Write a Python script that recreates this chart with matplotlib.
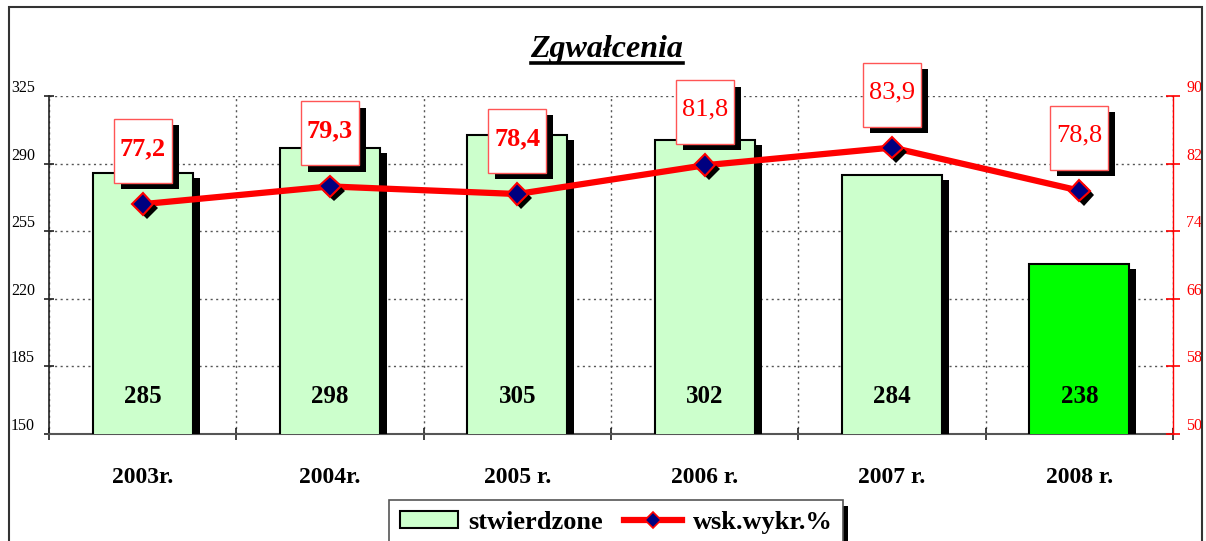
import matplotlib
matplotlib.use("Agg")
import matplotlib.pyplot as plt
import matplotlib.patheffects as pe
from matplotlib.patches import Rectangle, Patch
from matplotlib.lines import Line2D
import numpy as np

# ---- data ----
years = ["2003r.", "2004r.", "2005 r.", "2006 r.", "2007 r.", "2008 r."]
stwierdzone = [285, 298, 305, 302, 284, 238]
wsk_wykr = [77.2, 79.3, 78.4, 81.8, 83.9, 78.8]
wsk_labels = ["77,2", "79,3", "78,4", "81,8", "83,9", "78,8"]
left_ticks = [150, 185, 220, 255, 290, 325]
right_ticks = [50, 58, 66, 74, 82, 90]
title = "Zgwałcenia"
legend_labels = ["stwierdzone", "wsk.wykr.%"]

# ---- style ----
bar_colors = ["#CCFFCC"] * 5 + ["#00FF00"]
label_weights = ["bold", "bold", "bold", "normal", "normal", "normal"]
SERIF = ["Liberation Serif", "DejaVu Serif"]
plt.rcParams["font.family"] = SERIF

W, H = 1206, 541
fig = plt.figure(figsize=(W / 100, H / 100), dpi=100)
L, R, T, B = 49, 1173, 96, 434
ax = fig.add_axes([L / W, 1 - B / H, (R - L) / W, (B - T) / H])
ax2 = ax.twinx()

x = np.arange(len(years))
ax.set_xlim(-0.5, len(years) - 0.5)
ax.set_ylim(left_ticks[0], left_ticks[-1])
ax2.set_ylim(right_ticks[0], right_ticks[-1])

bar_shadow = [pe.SimplePatchShadow(offset=(5, -3.6), shadow_rgbFace="black", alpha=1.0), pe.Normal()]
bars = ax.bar(x, stwierdzone, width=0.535, color=bar_colors, edgecolor="black", linewidth=1.5, zorder=3)
for b in bars:
    b.set_path_effects(bar_shadow)

for xi, v in zip(x, stwierdzone):
    ax.annotate(str(v), (xi, left_ticks[0]), xytext=(0, 27), textcoords="offset points",
                ha="center", va="center", fontsize=18, fontweight="bold", color="black", zorder=5)

# grid
ax.set_axisbelow(True)
ax.set_yticks(left_ticks)
ax.set_xticks(x)
ax.set_xticks(np.arange(-0.5, len(years)), minor=True)
ax.yaxis.grid(True, linestyle=(0, (1.5, 2.5)), color="#555555", linewidth=1.0)
ax.xaxis.grid(True, which="minor", linestyle=(0, (1.5, 2.5)), color="#555555", linewidth=1.0)
ax.set_xticklabels(years, fontsize=17, fontweight="bold")
ax.tick_params(axis="x", which="major", length=0, pad=24)
ax.tick_params(axis="x", which="minor", direction="inout", length=9, width=1.2, color="#222222")
ax.tick_params(axis="y", direction="inout", length=6.5, width=1.2, pad=6.8, labelsize=11.5, color="#222222")
for lab in ax.get_yticklabels():
    lab.set_va("bottom")

for s in ["top", "right"]:
    ax.spines[s].set_visible(False)
ax.spines["left"].set_color("#222222")
ax.spines["bottom"].set_color("#555555")
ax.spines["left"].set_linewidth(1.2)
ax.spines["bottom"].set_linewidth(1.5)

for s in ["top", "left", "bottom"]:
    ax2.spines[s].set_visible(False)
ax2.spines["right"].set_color("red")
ax2.spines["right"].set_linewidth(1.0)
ax2.set_yticks(right_ticks)
ax2.tick_params(axis="y", direction="inout", length=9.4, width=1.2, pad=5, labelsize=11.5,
                colors="red")
for lab in ax2.get_yticklabels():
    lab.set_va("bottom")

# line + markers
ax2.plot(x, wsk_wykr, color="red", linewidth=4.5, zorder=3, solid_capstyle="butt")
mk = ax2.plot(x, wsk_wykr, linestyle="none", marker="D", markersize=11, markerfacecolor="#000080",
              markeredgecolor="red", markeredgewidth=1.5, zorder=4)[0]
mk.set_path_effects([pe.SimplePatchShadow(offset=(3, -3), shadow_rgbFace="black", alpha=1.0), pe.Normal()])

# label boxes
box_w, box_h, gap = 0.31, 7.57, 2.49
for xi, v, lab, w in zip(x, wsk_wykr, wsk_labels, label_weights):
    rect = Rectangle((xi - box_w / 2, v + gap), box_w, box_h, facecolor="white",
                     edgecolor="#FF5555", linewidth=1.0, zorder=6, clip_on=False)
    rect.set_path_effects([pe.SimplePatchShadow(offset=(5, -4.5), shadow_rgbFace="black", alpha=1.0),
                           pe.Normal()])
    ax2.add_patch(rect)
    ax2.text(xi, v + gap + box_h / 2 + 0.3, lab, ha="center", va="center", fontsize=19,
             fontweight=w, color="red", zorder=7, clip_on=False)

# title with underline
t = fig.text(607 / W, 1 - 57 / H, title, ha="center", va="baseline", fontsize=23,
             fontweight="bold", fontstyle="italic")
fig.canvas.draw()
bb = t.get_window_extent()
uy = 1 - 63 / H
fig.add_artist(Line2D([bb.x0 / W, bb.x1 / W], [uy, uy], color="black", linewidth=2.6,
                      transform=fig.transFigure))

# outer frame
fig.add_artist(Rectangle((9 / W, -0.1), (1202 - 9) / W, (1 - 7 / H) + 0.1, transform=fig.transFigure,
                         fill=False, edgecolor="#333333", linewidth=1.5))

# legend
handles = [Patch(facecolor="#CCFFCC", edgecolor="black", linewidth=1.5),
           Line2D([], [], color="red", linewidth=4.5, marker="D", markersize=8,
                  markerfacecolor="#000080", markeredgecolor="red", markeredgewidth=1.2)]
leg = fig.legend(handles, legend_labels, loc="upper left", bbox_to_anchor=(389 / W, 1 - 500 / H),
                 ncol=2, frameon=True, fancybox=False, edgecolor="#555555", framealpha=1,
                 prop={"family": SERIF, "weight": "bold", "size": 19}, handlelength=2.2,
                 handleheight=0.6, handletextpad=0.4, columnspacing=0.8, borderpad=0.4,
                 borderaxespad=0)
leg.get_frame().set_linewidth(1.2)
leg.get_frame().set_path_effects([pe.SimplePatchShadow(offset=(4, -4), shadow_rgbFace="black", alpha=1.0),
                                  pe.Normal()])

fig.savefig("out.png", dpi=100)
